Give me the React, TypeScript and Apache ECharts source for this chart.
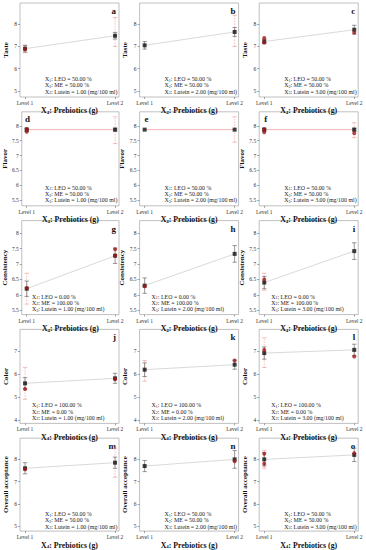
import React, { useEffect, useRef } from 'react';
import * as echarts from 'echarts';

const letters = ['a', 'b', 'c', 'd', 'e', 'f', 'g', 'h', 'i', 'j', 'k', 'l', 'm', 'n', 'o'];
const attrNames = ['Taste', 'Flavor', 'Consistency', 'Color', 'Overall acceptance'];
const levels = [1, 2];
const levelLabels = ['Level 1', 'Level 2'];

// predicted means (black) at Level 1 and Level 2
const predL1 = [6.9, 7.05, 7.22, 7.87, 7.87, 7.87, 6.2, 6.3, 6.4, 5.6, 6.2, 6.93, 7.6, 7.7, 8.0];
const predL2 = [7.48, 7.65, 7.75, 7.87, 7.87, 7.87, 7.27, 7.33, 7.42, 5.82, 6.42, 7.07, 7.85, 8.0, 8.2];
// black error half-widths
const blackErrL1 = [0.15, 0.17, 0.1, 0.05, 0.0, 0.05, 0.25, 0.25, 0.2, 0.25, 0.3, 0.27, 0.25, 0.25, 0.3];
const blackErrL2 = [0.15, 0.2, 0.2, 0.05, 0.0, 0.05, 0.25, 0.27, 0.27, 0.22, 0.2, 0.25, 0.25, 0.4, 0.3];
// observed values (red)
const redL1: number[][] = [[6.88], [], [7.38, 7.18], [7.89, 7.8], [], [7.88, 7.78], [6.22], [6.28], [6.5], [5.35], [], [7.07], [7.55], [], [8.25, 7.8]];
const redL2: number[][] = [[], [], [7.62], [], [], [7.75], [7.48, 7.28], [], [], [5.78], [6.6], [6.78], [], [7.92], [8.28]];
// pink error ranges [low, high]
const pinkErrL1: (number[] | null)[] = [[6.72, 7.05], null, null, null, null, null, [5.7, 6.7], null, [6.15, 6.7], [4.9, 6.3], [5.7, 6.6], [6.3, 7.6], null, null, [7.6, 8.4]];
const pinkErrL2: (number[] | null)[] = [[7.0, 8.3], [7.0, 8.4], null, [7.4, 8.3], [7.45, 8.3], [7.6, 8.1], null, null, null, null, null, null, [7.2, 8.5], null, null];
// factor settings
const leoPct = ['50.00', '50.00', '50.00', '50.00', '50.00', '50.00', '0.00', '0.00', '0.00', '100.00', '100.00', '100.00', '50.00', '50.00', '50.00'];
const mePct = ['50.00', '50.00', '50.00', '50.00', '50.00', '50.00', '100.00', '100.00', '100.00', '0.00', '0.00', '0.00', '50.00', '50.00', '50.00'];
const luteinMg = ['1.00', '2.00', '3.00', '1.00', '2.00', '3.00', '1.00', '2.00', '3.00', '1.00', '2.00', '3.00', '1.00', '2.00', '3.00'];
// y-axis per row
const rowYMin = [4.73, 5.31, 5.36, 3.84, 4.78];
const rowYMax = [8.95, 8.47, 8.41, 7.97, 8.95];
const rowTicks = [[5, 6, 7, 8], [5.5, 6, 6.5, 7, 7.5, 8], [5.5, 6, 6.5, 7, 7.5, 8], [4, 5, 6, 7], [5, 6, 7, 8]];

const SERIF = 'Liberation Serif';

export default function App() {
  const ref = useRef<HTMLDivElement>(null);
  useEffect(() => {
    if (!ref.current) return;
    const chart = echarts.init(ref.current, undefined, { renderer: 'svg' });
    const grids: any[] = [];
    const xAxes: any[] = [];
    const yAxes: any[] = [];
    const series: any[] = [];
    const graphics: any[] = [];
    const boxW = 99;
    const boxH = 94;

    const errRender = (color: string, dashed: boolean, width: number) => (params: any, api: any) => {
      const x = api.value(0);
      const lo = api.value(1);
      const hi = api.value(2);
      const p1 = api.coord([x, lo]);
      const p2 = api.coord([x, hi]);
      const st = { stroke: color, lineWidth: width, lineDash: dashed ? [1.5, 1.2] : null };
      return {
        type: 'group',
        children: [
          { type: 'line', shape: { x1: p1[0], y1: p1[1], x2: p2[0], y2: p2[1] }, style: st },
          { type: 'line', shape: { x1: p1[0] - 2.2, y1: p1[1], x2: p1[0] + 2.2, y2: p1[1] }, style: { ...st, lineDash: null } },
          { type: 'line', shape: { x1: p2[0] - 2.2, y1: p2[1], x2: p2[0] + 2.2, y2: p2[1] }, style: { ...st, lineDash: null } },
        ],
      };
    };

    for (let i = 0; i < 15; i++) {
      const r = Math.floor(i / 3);
      const c = i % 3;
      const left = 20 + c * 119.6;
      const top = 3 + r * 108.8;
      grids.push({ left, top, width: boxW, height: boxH, show: true, borderColor: '#b0b0b0', borderWidth: 0.8, containLabel: false });
      xAxes.push({
        gridIndex: i,
        type: 'value',
        min: 0.944,
        max: 2.044,
        axisLine: { show: false },
        splitLine: { show: false },
        axisTick: { show: true, customValues: levels, length: 2, lineStyle: { color: '#666', width: 0.6 } },
        axisLabel: {
          customValues: levels,
          formatter: (v: number) => levelLabels[Math.round(v) - 1],
          fontSize: 5.5,
          fontFamily: SERIF,
          color: '#333',
          margin: 3,
        },
        name: '{b|X}{s|4}{b|: Prebiotics (g)}',
        nameLocation: 'middle',
        nameGap: 9.5,
        nameTextStyle: {
          rich: {
            b: { fontSize: 7.8, fontWeight: 'bold', fontFamily: SERIF, color: '#111', lineHeight: 8 },
            s: { fontSize: 5, fontWeight: 'bold', fontFamily: SERIF, color: '#111', lineHeight: 5, verticalAlign: 'bottom' },
          },
        },
      });
      yAxes.push({
        gridIndex: i,
        type: 'value',
        min: rowYMin[r],
        max: rowYMax[r],
        axisLine: { show: false },
        splitLine: { show: false },
        axisTick: { show: true, customValues: rowTicks[r], length: 2, lineStyle: { color: '#666', width: 0.6 } },
        axisLabel: { customValues: rowTicks[r], fontSize: 5.5, fontFamily: SERIF, color: '#333', margin: 3 },
        name: attrNames[r],
        nameLocation: 'middle',
        nameGap: 11,
        nameTextStyle: { fontSize: 7, fontWeight: 'bold', fontFamily: SERIF, color: '#111' },
      });

      // connecting line
      const flat = r === 1;
      series.push({
        type: 'line',
        xAxisIndex: i,
        yAxisIndex: i,
        data: [[levels[0], predL1[i]], [levels[1], predL2[i]]],
        symbol: 'none',
        lineStyle: { color: flat ? '#f0a0a0' : '#cfcfcf', width: 0.8 },
        silent: true,
        z: 1,
      });
      // pink error bars
      const pinkData: number[][] = [];
      if (pinkErrL1[i]) pinkData.push([levels[0], pinkErrL1[i]![0], pinkErrL1[i]![1]]);
      if (pinkErrL2[i]) pinkData.push([levels[1], pinkErrL2[i]![0], pinkErrL2[i]![1]]);
      series.push({
        type: 'custom',
        xAxisIndex: i,
        yAxisIndex: i,
        data: pinkData,
        encode: { x: 0, y: [1, 2] },
        renderItem: errRender('#f2a2a2', true, 0.7),
        z: 2,
      });
      // black error bars
      const blackData: number[][] = [];
      if (blackErrL1[i] > 0) blackData.push([levels[0], predL1[i] - blackErrL1[i], predL1[i] + blackErrL1[i]]);
      if (blackErrL2[i] > 0) blackData.push([levels[1], predL2[i] - blackErrL2[i], predL2[i] + blackErrL2[i]]);
      series.push({
        type: 'custom',
        xAxisIndex: i,
        yAxisIndex: i,
        data: blackData,
        encode: { x: 0, y: [1, 2] },
        renderItem: errRender('#555', false, 0.6),
        z: 3,
      });
      // black predicted
      series.push({
        type: 'scatter',
        xAxisIndex: i,
        yAxisIndex: i,
        data: [[levels[0], predL1[i]], [levels[1], predL2[i]]],
        symbol: 'rect',
        symbolSize: 4,
        itemStyle: { color: '#111' },
        z: 4,
      });
      // red observed
      const redData: number[][] = [];
      redL1[i].forEach((v) => redData.push([levels[0], v]));
      redL2[i].forEach((v) => redData.push([levels[1], v]));
      series.push({
        type: 'scatter',
        xAxisIndex: i,
        yAxisIndex: i,
        data: redData,
        symbol: 'circle',
        symbolSize: 4,
        itemStyle: { color: '#a31515' },
        z: 5,
      });

      // panel letter
      const letterLeft = r === 1;
      graphics.push({
        type: 'text',
        x: letterLeft ? left + 5 : left + boxW - 3,
        y: top + (letterLeft ? 7 : 8),
        style: {
          text: letters[i],
          fontSize: 9,
          fontWeight: 'bold',
          fontFamily: SERIF,
          fill: '#111',
          align: letterLeft ? 'left' : 'right',
          verticalAlign: 'middle',
        },
      });
      // factor annotation
      const annLeft = r === 2 || r === 3 ? left + 12 : left + 25;
      graphics.push({
        type: 'text',
        x: annLeft,
        y: top + 73,
        style: {
          text:
            '{n|X}{s|1}{n|: LEO = ' + leoPct[i] + ' %}\n' +
            '{n|X}{s|2}{n|: ME = ' + mePct[i] + ' %}\n' +
            '{n|X}{s|3}{n|: Lutein = ' + luteinMg[i] + ' (mg/100 ml)}',
          align: 'left',
          verticalAlign: 'top',
          fill: '#222',
          rich: {
            n: { fontSize: 5.9, fontFamily: SERIF, fill: '#222', lineHeight: 6.2 },
            s: { fontSize: 4, fontFamily: SERIF, fill: '#222', lineHeight: 4, verticalAlign: 'bottom' },
          },
        },
      });
    }

    chart.setOption({
      animation: false,
      backgroundColor: '#fff',
      grid: grids,
      xAxis: xAxes,
      yAxis: yAxes,
      series,
      graphic: graphics,
    });
    return () => chart.dispose();
  }, []);
  return <div ref={ref} style={{ position: 'fixed', left: 0, top: 0, width: 366, height: 550 }} />;
}
